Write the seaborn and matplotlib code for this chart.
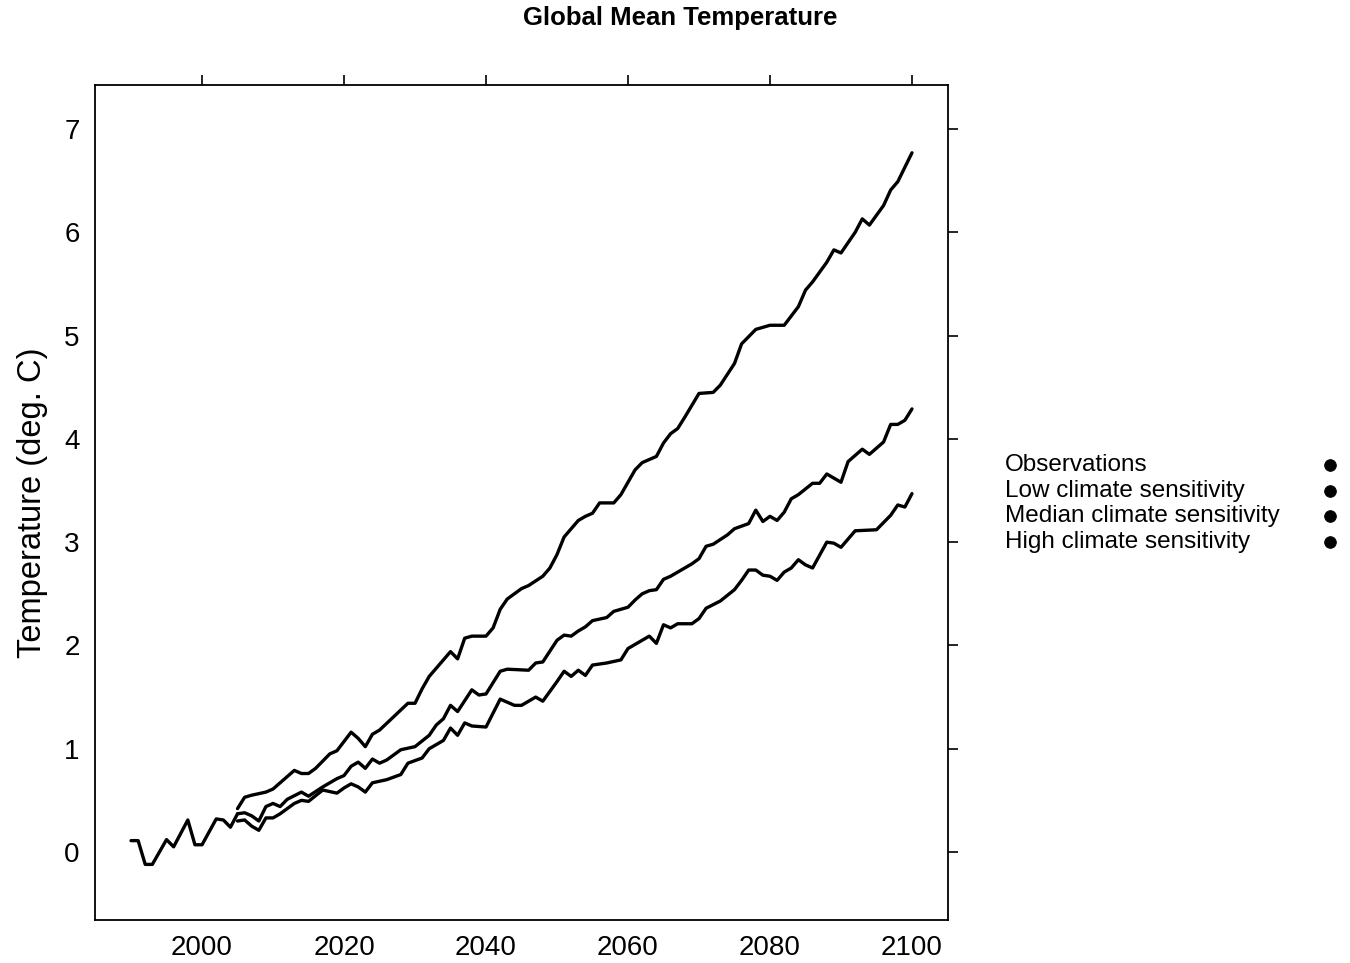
import matplotlib
matplotlib.use("Agg")
import matplotlib.pyplot as plt
import pandas as pd
import seaborn as sns

# Observed global mean temperature anomaly (deg C)
obs_years = [1990, 1991, 1992, 1993, 1995, 1996, 1998, 1999, 2000, 2002, 2003, 2004, 2005]
obs_temp = [0.11, 0.11, -0.12, -0.12, 0.12, 0.05, 0.31, 0.07, 0.07, 0.32, 0.31, 0.24, 0.37]

# Projection under low climate sensitivity
low_years = [2005, 2006, 2007, 2008, 2009, 2010, 2011, 2012, 2013, 2014, 2015, 2017, 2019,
             2020, 2021, 2022, 2023, 2024, 2026, 2028, 2029, 2031, 2032, 2034, 2035, 2036,
             2037, 2038, 2040, 2042, 2044, 2045, 2047, 2048, 2050, 2051, 2052, 2053, 2054,
             2055, 2057, 2059, 2060, 2061, 2063, 2064, 2065, 2066, 2067, 2069, 2070, 2071,
             2073, 2075, 2076, 2077, 2078, 2079, 2080, 2081, 2082, 2083, 2084, 2085, 2086,
             2088, 2089, 2090, 2092, 2095, 2096, 2097, 2098, 2099, 2100]
low_temp = [0.30, 0.31, 0.25, 0.21, 0.33, 0.33, 0.37, 0.42, 0.47, 0.50, 0.49, 0.60, 0.57,
            0.62, 0.66, 0.63, 0.58, 0.67, 0.70, 0.75, 0.86, 0.91, 1.00, 1.08, 1.20, 1.13,
            1.25, 1.22, 1.21, 1.48, 1.42, 1.42, 1.50, 1.46, 1.65, 1.75, 1.70, 1.76, 1.71,
            1.81, 1.83, 1.86, 1.97, 2.01, 2.09, 2.02, 2.20, 2.17, 2.21, 2.21, 2.26, 2.36,
            2.43, 2.54, 2.63, 2.73, 2.73, 2.68, 2.67, 2.63, 2.71, 2.75, 2.83, 2.78, 2.75,
            3.00, 2.99, 2.95, 3.11, 3.12, 3.19, 3.26, 3.36, 3.34, 3.47]

# Projection under median climate sensitivity
med_years = [2005, 2006, 2007, 2008, 2009, 2010, 2011, 2012, 2014, 2015, 2017, 2019, 2020,
             2021, 2022, 2023, 2024, 2025, 2026, 2028, 2030, 2032, 2033, 2034, 2035, 2036,
             2038, 2039, 2040, 2042, 2043, 2046, 2047, 2048, 2050, 2051, 2052, 2053, 2054,
             2055, 2057, 2058, 2060, 2061, 2062, 2063, 2064, 2065, 2066, 2067, 2069, 2070,
             2071, 2072, 2074, 2075, 2077, 2078, 2079, 2080, 2081, 2082, 2083, 2084, 2086,
             2087, 2088, 2089, 2090, 2091, 2093, 2094, 2096, 2097, 2098, 2099, 2100]
med_temp = [0.37, 0.38, 0.35, 0.30, 0.44, 0.47, 0.44, 0.51, 0.58, 0.54, 0.63, 0.71, 0.74,
            0.83, 0.87, 0.81, 0.90, 0.86, 0.89, 0.99, 1.02, 1.13, 1.23, 1.29, 1.42, 1.36,
            1.57, 1.52, 1.53, 1.75, 1.77, 1.76, 1.83, 1.84, 2.05, 2.10, 2.09, 2.14, 2.18,
            2.24, 2.27, 2.33, 2.37, 2.44, 2.50, 2.53, 2.54, 2.64, 2.67, 2.71, 2.79, 2.84,
            2.96, 2.98, 3.07, 3.13, 3.18, 3.31, 3.20, 3.25, 3.21, 3.29, 3.42, 3.46, 3.57,
            3.57, 3.66, 3.62, 3.58, 3.78, 3.90, 3.85, 3.97, 4.14, 4.14, 4.18, 4.29]

# Projection under high climate sensitivity
high_years = [2005, 2006, 2007, 2009, 2010, 2011, 2012, 2013, 2014, 2015, 2016, 2017, 2018,
              2019, 2021, 2022, 2023, 2024, 2025, 2027, 2029, 2030, 2031, 2032, 2033, 2035,
              2036, 2037, 2038, 2040, 2041, 2042, 2043, 2045, 2046, 2048, 2049, 2050, 2051,
              2053, 2054, 2055, 2056, 2058, 2059, 2061, 2062, 2064, 2065, 2066, 2067, 2068,
              2070, 2072, 2073, 2075, 2076, 2078, 2080, 2082, 2084, 2085, 2086, 2088, 2089,
              2090, 2092, 2093, 2094, 2096, 2097, 2098, 2100]
high_temp = [0.42, 0.53, 0.55, 0.58, 0.61, 0.67, 0.73, 0.79, 0.76, 0.76, 0.81, 0.88, 0.95,
             0.98, 1.16, 1.10, 1.02, 1.14, 1.18, 1.31, 1.44, 1.44, 1.58, 1.70, 1.78, 1.94,
             1.87, 2.07, 2.09, 2.09, 2.17, 2.35, 2.45, 2.55, 2.58, 2.67, 2.75, 2.88, 3.05,
             3.21, 3.25, 3.28, 3.38, 3.38, 3.46, 3.70, 3.77, 3.83, 3.96, 4.05, 4.10, 4.21,
             4.44, 4.45, 4.52, 4.73, 4.92, 5.06, 5.10, 5.10, 5.28, 5.44, 5.52, 5.71, 5.83,
             5.80, 6.00, 6.13, 6.07, 6.26, 6.41, 6.49, 6.77]

series_names = ["Observations", "Low climate sensitivity",
                "Median climate sensitivity", "High climate sensitivity"]
x_ticks = [2000, 2020, 2040, 2060, 2080, 2100]
y_ticks = [0, 1, 2, 3, 4, 5, 6, 7]

frames = []
for name, yrs, vals in zip(series_names,
                           [obs_years, low_years, med_years, high_years],
                           [obs_temp, low_temp, med_temp, high_temp]):
    frames.append(pd.DataFrame({"year": yrs, "temp": vals, "series": name}))
df = pd.concat(frames, ignore_index=True)

sns.set_theme(style="white")
plt.rcParams["font.family"] = ["Liberation Sans", "DejaVu Sans"]
plt.rcParams.update({
    "text.color": "black", "axes.labelcolor": "black",
    "xtick.direction": "out", "ytick.direction": "out",
    "xtick.major.size": 7, "ytick.major.size": 7,
    "xtick.major.width": 1.2, "ytick.major.width": 1.2,
    "xtick.color": "black", "ytick.color": "black",
    "xtick.labelcolor": "black", "ytick.labelcolor": "black",
})

fig = plt.figure(figsize=(13.5, 9.63), dpi=100)
ax = fig.add_axes([0.0704, 0.0447, 0.6318, 0.867])

sns.lineplot(data=df, x="year", y="temp", hue="series", hue_order=series_names,
             palette=["black"] * 4, estimator=None, sort=True, legend=False,
             linewidth=2.4, ax=ax)

ax.set_xlim(1984.93, 2105.07)
ax.set_ylim(-0.658, 7.426)
ax.set_xticks(x_ticks)
ax.set_yticks(y_ticks)
ax.tick_params(axis="both", which="major", labelsize=20, pad=4,
               top=True, right=True, labeltop=False, labelright=False)
for s in ax.spines.values():
    s.set_visible(True)
    s.set_color("black")
    s.set_linewidth(1.3)
ax.set_xlabel("")
ax.set_ylabel("Temperature (deg. C)", fontsize=23.5, labelpad=12)

fig.text(0.504, 0.981, "Global Mean Temperature", ha="center", va="center",
         fontsize=18.5, fontweight="bold")

# Key: labels on the left, black dots in a column on the right
lax = fig.add_axes([0.7444, 0.4238, 0.2482, 0.1066])
key = pd.DataFrame({"x": [0.97] * 4, "y": list(range(4)), "series": series_names})
sns.scatterplot(data=key, x="x", y="y", color="black", s=70, edgecolor="black",
                legend=False, ax=lax)
for i, name in enumerate(series_names):
    lax.text(0.0, i, name, ha="left", va="center", fontsize=17.5)
lax.set_xlim(0, 1)
lax.set_ylim(3.5, -0.5)
lax.axis("off")

fig.savefig("out.png", dpi=100)
